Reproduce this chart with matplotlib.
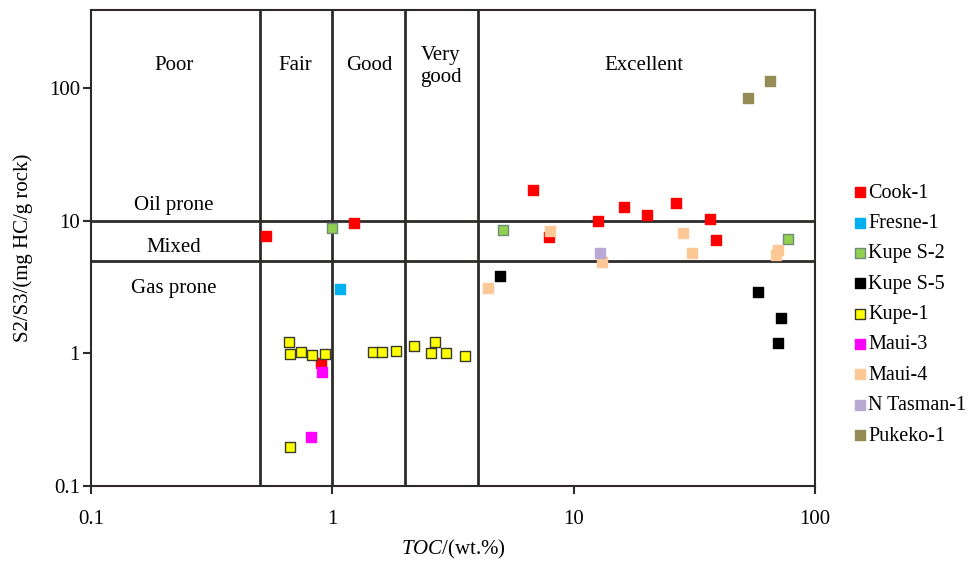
import matplotlib
matplotlib.use('Agg')
from matplotlib import pyplot as plt
import numpy as np

plt.rcParams['font.family'] = ['Liberation Serif', 'DejaVu Serif']
plt.rcParams['mathtext.fontset'] = 'custom'
plt.rcParams['mathtext.it'] = 'Liberation Serif:italic'
plt.rcParams['mathtext.rm'] = 'Liberation Serif'

# TOC (wt.%) and S2/S3 for each well
cook1_toc = [0.53, 1.23, 0.895, 6.8, 7.9, 12.6, 16.2, 20.1, 26.5, 36.6, 39.0]
cook1_s2s3 = [7.65, 9.6, 0.845, 17.0, 7.56, 9.94, 12.8, 11.1, 13.6, 10.3, 7.14]
fresne1_toc = [1.08]
fresne1_s2s3 = [3.04]
kupes2_toc = [1.0, 5.09, 77.6]
kupes2_s2s3 = [8.85, 8.6, 7.26]
kupes5_toc = [4.96, 57.9, 72.4, 70.3]
kupes5_s2s3 = [3.87, 2.93, 1.85, 1.20]
kupe1_toc = [0.66, 0.67, 0.74, 0.82, 0.93, 1.47, 1.61, 1.84, 2.17, 2.67, 2.56, 2.96, 3.54, 0.67]
kupe1_s2s3 = [1.21, 0.99, 1.02, 0.98, 0.99, 1.03, 1.03, 1.05, 1.13, 1.22, 1.01, 1.01, 0.96, 0.197]
maui3_toc = [0.904, 0.816]
maui3_s2s3 = [0.727, 0.233]
maui4_toc = [4.43, 7.98, 13.1, 28.5, 31.0, 69.0, 70.5]
maui4_s2s3 = [3.09, 8.45, 4.9, 8.1, 5.73, 5.57, 6.0]
ntasman1_toc = [12.9]
ntasman1_s2s3 = [5.73]
pukeko1_toc = [53.0, 65.3]
pukeko1_s2s3 = [84.4, 112.8]

wells = [
    ('Cook-1', cook1_toc, cook1_s2s3, '#ff0000', '#ff0000'),
    ('Fresne-1', fresne1_toc, fresne1_s2s3, '#00b0f0', '#00b0f0'),
    ('Kupe S-2', kupes2_toc, kupes2_s2s3, '#92d050', '#6f8a78'),
    ('Kupe S-5', kupes5_toc, kupes5_s2s3, '#000000', '#000000'),
    ('Kupe-1', kupe1_toc, kupe1_s2s3, '#ffff00', '#3a3a2a'),
    ('Maui-3', maui3_toc, maui3_s2s3, '#ff00ff', '#ff00ff'),
    ('Maui-4', maui4_toc, maui4_s2s3, '#fcc896', '#fcc896'),
    ('N Tasman-1', ntasman1_toc, ntasman1_s2s3, '#b9a8d2', '#b9a8d2'),
    ('Pukeko-1', pukeko1_toc, pukeko1_s2s3, '#958b55', '#958b55'),
]

# classification boundaries
toc_bounds = [0.5, 1, 2, 4]
s2s3_bounds = [5, 10]
quality_labels = ['Poor', 'Fair', 'Good', 'Very\ngood', 'Excellent']
quality_x = [0.22, 0.7, 1.42, 2.82, 19.5]
quality_y = [149, 149, 149, 146, 149]
kerogen_labels = ['Oil prone', 'Mixed', 'Gas prone']
kerogen_y = [13.1, 6.32, 3.10]

fig = plt.figure(figsize=(9.74, 5.61), dpi=100)
ax = fig.add_axes([0.0934, 0.1337, 0.7434, 0.8485])
ax.set_xscale('log')
ax.set_yscale('log')
ax.set_xlim(0.1, 100)
ax.set_ylim(0.1, 390)

line_col = '#2e2a2a'
for x in toc_bounds:
    ax.axvline(x, color=line_col, lw=2, zorder=1)
for y in s2s3_bounds:
    ax.axhline(y, color=line_col, lw=2, zorder=1)

for name, xs, ys, fc, ec in wells:
    ax.scatter(xs, ys, marker='s', s=60, c=fc, edgecolors=ec, linewidths=1.0,
               label=name, zorder=3)

for lab, x, y in zip(quality_labels, quality_x, quality_y):
    ax.text(x, y, lab, ha='center', va='center', fontsize=15, linespacing=1.22)
for lab, y in zip(kerogen_labels, kerogen_y):
    ax.text(0.22, y, lab, ha='center', va='center', fontsize=15)

ax.set_xticks([0.1, 1, 10, 100])
ax.set_xticklabels(['0.1', '1', '10', '100'])
ax.set_yticks([0.1, 1, 10, 100])
ax.set_yticklabels(['0.1', '1', '10', '100'])
ax.minorticks_off()
ax.tick_params(labelsize=15, length=6, width=1.5, color=line_col)
ax.tick_params(axis='x', pad=11)
ax.tick_params(axis='y', pad=2)
for sp in ax.spines.values():
    sp.set_color(line_col)
    sp.set_linewidth(1.5)

ax.set_xlabel(r'$\mathit{TOC}$/(wt.%)', fontsize=15, labelpad=7)
ax.set_ylabel('S2/S3/(mg HC/g rock)', fontsize=15, labelpad=11)

ax.legend(loc='upper left', bbox_to_anchor=(0.865, 0.691), bbox_transform=fig.transFigure,
          frameon=False, fontsize=14.5, borderpad=0, labelspacing=0.56,
          handletextpad=0.08, handlelength=0.7, scatterpoints=1)

fig.savefig('out.png', dpi=100)
